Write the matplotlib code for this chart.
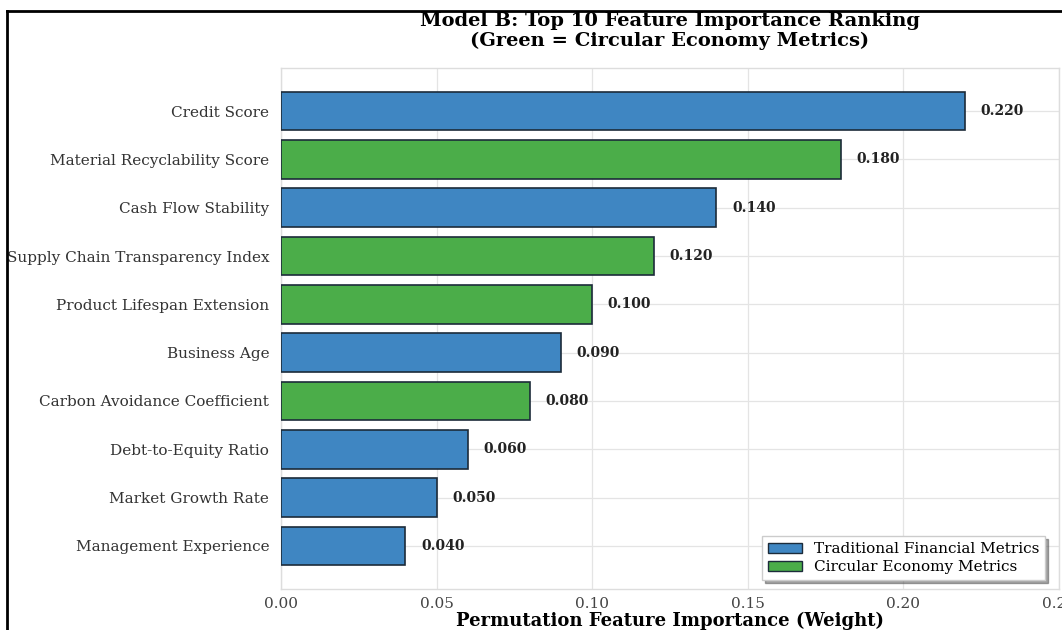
import matplotlib
matplotlib.use("Agg")
import matplotlib.pyplot as plt
from matplotlib.lines import Line2D
from matplotlib.patches import Patch

features = ["Credit Score", "Material Recyclability Score", "Cash Flow Stability",
            "Supply Chain Transparency Index", "Product Lifespan Extension", "Business Age",
            "Carbon Avoidance Coefficient", "Debt-to-Equity Ratio", "Market Growth Rate",
            "Management Experience"]
importance = [0.220, 0.180, 0.140, 0.120, 0.100, 0.090, 0.080, 0.060, 0.050, 0.040]
is_circular = [False, True, False, True, True, False, True, False, False, False]

BLUE = "#3f86c2"
GREEN = "#4bad49"

plt.rcParams['font.family'] = ['DejaVu Serif']

W, H = 1062, 630
fig = plt.figure(figsize=(W / 100, H / 100), dpi=100)
fig.patch.set_facecolor("white")

left, right, top, bottom = 281, 1058.5, 68, 589
ax = fig.add_axes([left / W, 1 - bottom / H, (right - left) / W, (bottom - top) / H])

ypos = list(range(len(features)))[::-1]
colors = [GREEN if c else BLUE for c in is_circular]
ax.barh(ypos, importance, height=0.8, color=colors, edgecolor="#1c2b3a", linewidth=1.2, zorder=3)

for y, v in zip(ypos, importance):
    ax.text(v + 0.005, y, f"{v:.3f}", va="center", ha="left", fontsize=10,
            fontweight="bold", color="#222222", zorder=4)

ax.set_yticks(ypos)
ax.set_yticklabels(features, fontsize=11, color="#333333")
ax.set_xlim(0, 0.25)
ax.set_xticks([0.0, 0.05, 0.10, 0.15, 0.20, 0.25])
ax.set_xticklabels(["0.00", "0.05", "0.10", "0.15", "0.20", "0.25"], fontsize=11, color="#444444")
ax.tick_params(axis="y", length=0, pad=8.5)
ax.tick_params(axis="x", length=0, pad=6)
ax.grid(True, color="#e4e4e4", linewidth=0.9, zorder=0)
ax.set_axisbelow(True)
for s in ax.spines.values():
    s.set_color("#dddddd")
    s.set_linewidth(1.0)

ax.set_xlabel("Permutation Feature Importance (Weight)", fontsize=13, fontweight="bold", labelpad=0)
ax.set_title("Model B: Top 10 Feature Importance Ranking\n(Green = Circular Economy Metrics)",
             fontsize=14, fontweight="bold", pad=16, linespacing=1.1)

handles = [Patch(facecolor=BLUE, edgecolor="#1c2b3a", label="Traditional Financial Metrics"),
           Patch(facecolor=GREEN, edgecolor="#1c2b3a", label="Circular Economy Metrics")]
ax.legend(handles=handles, loc="lower right", fontsize=11, frameon=True, shadow=True,
          fancybox=False, edgecolor="#cccccc", framealpha=1.0, borderpad=0.4,
          handlelength=2.2, handleheight=0.6, labelspacing=0.25,
          bbox_to_anchor=(0.993, 0.002))

x0 = 7 / W
y0 = 1 - 11 / H
fig.add_artist(Line2D([x0, x0], [0, y0], transform=fig.transFigure, color="black", linewidth=2, zorder=10))
fig.add_artist(Line2D([x0, 1], [y0, y0], transform=fig.transFigure, color="black", linewidth=2, zorder=10))

fig.savefig("out.png", dpi=100)
